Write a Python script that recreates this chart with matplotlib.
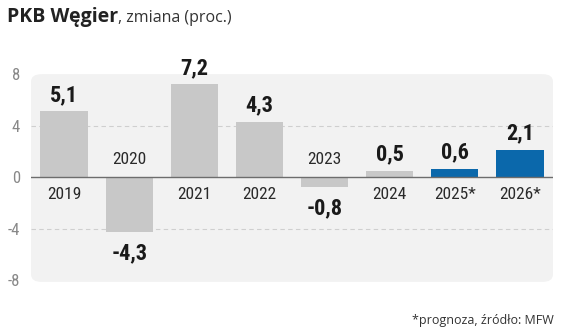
import matplotlib.pyplot as plt
from matplotlib.patches import FancyBboxPatch

years = ["2019", "2020", "2021", "2022", "2023", "2024", "2025*", "2026*"]
values = [5.1, -4.3, 7.2, 4.3, -0.8, 0.5, 0.6, 2.1]
forecast = [False, False, False, False, False, False, True, True]
yticks = [-8, -4, 0, 4, 8]

gray = "#c8c8c8"
blue = "#0b68ab"
fonts = ["Roboto Condensed", "Roboto", "DejaVu Sans"]

plt.rcParams["font.family"] = fonts

fig = plt.figure(figsize=(5.64, 3.34), dpi=100)
ax = fig.add_axes([0.055, 0.156, 0.9255, 0.622])
ax.patch.set_visible(False)

panel = FancyBboxPatch((0, 0), 1, 1, boxstyle="round,pad=0,rounding_size=0.02",
                       transform=ax.transAxes, facecolor="#f2f2f2",
                       edgecolor="none", zorder=0, mutation_aspect=1.8)
ax.add_patch(panel)

x = list(range(len(years)))
colors = [blue if f else gray for f in forecast]
ax.bar(x, values, width=0.73, color=colors, zorder=2)

ax.set_xlim(-0.51, 7.51)
ax.set_ylim(-8.15, 8.0)

for v in (-4, 4):
    ax.axhline(v, color="#cfcfcf", lw=0.8, ls=(0, (4, 3)), zorder=1)
ax.axhline(0, color="#6d6d6d", lw=1.0, zorder=3)

for xi, v, y in zip(x, values, years):
    lab = f"{v:.1f}".replace(".", ",")
    if v >= 0:
        ax.annotate(lab, (xi, v), xytext=(0, 4), textcoords="offset points",
                    ha="center", va="bottom", fontsize=16, fontweight="bold",
                    color="#1a1a1a")
        ax.annotate(y, (xi, 0), xytext=(0, -7), textcoords="offset points",
                    ha="center", va="top", fontsize=12.5, color="#2a2a2a")
    else:
        ax.annotate(lab, (xi, v), xytext=(0, -7), textcoords="offset points",
                    ha="center", va="top", fontsize=16, fontweight="bold",
                    color="#1a1a1a")
        ax.annotate(y, (xi, 0), xytext=(0, 7), textcoords="offset points",
                    ha="center", va="bottom", fontsize=12.5, color="#2a2a2a")

ax.set_yticks(yticks)
ax.set_yticklabels([str(t) for t in yticks])
ax.set_xticks([])
ax.tick_params(axis="y", length=0, pad=8, labelsize=12, labelcolor="#888888")
for s in ax.spines.values():
    s.set_visible(False)

t1 = fig.text(0.012, 0.935, "PKB Węgier", fontsize=14, fontweight="bold",
              color="#222222", va="baseline", family=["Open Sans", "DejaVu Sans"])
fig.canvas.draw()
bb = t1.get_window_extent()
fig.text(bb.x1 / fig.bbox.width, 0.935, ", zmiana (proc.)", fontsize=11.5,
         color="#333333", va="baseline", family=["Open Sans", "DejaVu Sans"])
fig.text(0.982, 0.03, "*prognoza, źródło: MFW", fontsize=9,
         color="#333333", ha="right", va="baseline",
         family=["Open Sans", "DejaVu Sans"])

fig.savefig("out.png", dpi=100)
